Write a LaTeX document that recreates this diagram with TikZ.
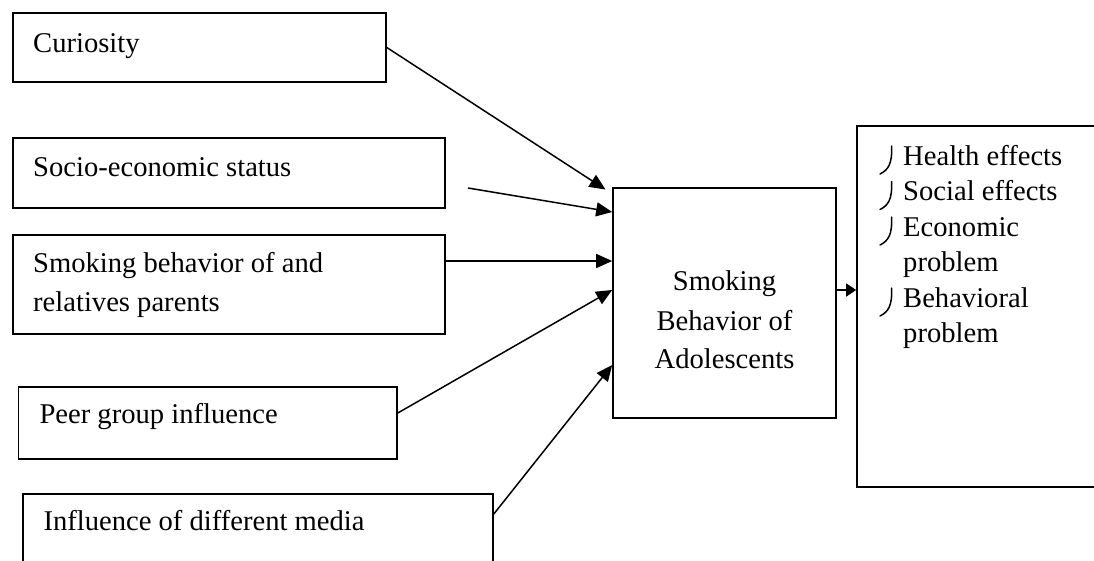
\documentclass[tikz,border=0pt]{standalone}
\usepackage{fontspec}
\setmainfont{Liberation Serif}
\usetikzlibrary{arrows.meta}
\begin{document}
\begin{tikzpicture}[x=1pt,y=-1pt,
  box/.style={draw, line width=1.6pt, inner sep=0pt},
  lbl/.style={inner sep=0pt, anchor=base west, font=\fontsize{28.6}{39}\selectfont},
  clbl/.style={inner sep=0pt, anchor=base, font=\fontsize{28.6}{39}\selectfont},
  arr/.style={line width=1.5pt, -{Triangle[length=16pt,width=14pt]}},
  arrsmall/.style={line width=1.5pt, -{Triangle[length=10pt,width=13pt]}},
  bulletmark/.style={line width=1.5pt, line cap=round}]
\useasboundingbox (0,0) rectangle (1094,560);
\clip (0,0) rectangle (1094,560);
% boxes
\node[box, minimum width=373.3pt, minimum height=69pt] (cur) at (199.35,47.5) {};
\node[box, minimum width=432.3pt, minimum height=70pt] (soc) at (228.85,173) {};
\node[box, minimum width=432.3pt, minimum height=99pt] (smk) at (228.85,284.5) {};
\node[box, minimum width=378.7pt, minimum height=72pt] (peer) at (207.65,423) {};
\node[box, minimum width=470.3pt, minimum height=86pt] (inf) at (257.85,537) {};
\node[box, minimum width=223pt, minimum height=230pt] (ctr) at (724.5,303) {};
\node[box, minimum width=293pt, minimum height=361pt] (rbox) at (1003.5,306.5) {};
% texts
\node[lbl] (tcur) at (33,52) {Curiosity};
\node[lbl] (tsoc) at (33,176) {Socio-economic status};
\node[lbl] (tsmk1) at (33,272) {Smoking behavior of and};
\node[lbl] (tsmk2) at (33,311) {relatives parents};
\node[lbl] (tpeer) at (39.3,423) {Peer group influence};
\node[lbl] (tinf) at (43.3,530) {Influence of different media};
\node[clbl] (tc1) at (724.5,290) {Smoking};
\node[clbl] (tc2) at (724.5,330) {Behavior of};
\node[clbl] (tc3) at (724.5,368) {Adolescents};
\node[lbl] (tr1) at (903,165) {Health effects};
\node[lbl] (tr2) at (903,200.5) {Social effects};
\node[lbl] (tr3) at (903,236) {Economic};
\node[lbl] (tr4) at (903,271.5) {problem};
\node[lbl] (tr5) at (903,307) {Behavioral};
\node[lbl] (tr6) at (903,342.5) {problem};
% bullet marks
\foreach \b in {165,200.5,236,307}{
  \draw[bulletmark] (891.5,\b-19) .. controls (892.5,\b-1) and (888,\b+5) .. (880,\b+9);
}
% connectors
\coordinate (c1tip) at (605.5,189.5);
\coordinate (s0) at (468,188);
\draw[arr] (cur.east) -- (c1tip);
\draw[arr] (s0) -- (ctr.west |- 0,212);
\draw[arr] (smk.east |- 0,261) -- (ctr.west |- 0,261);
\draw[arr] (peer.east |- 0,413) -- (ctr.west |- 0,290);
\draw[arr] (inf.east |- 0,514) -- (ctr.west |- 0,365);
\draw[arrsmall] (ctr.east |- 0,290) -- (rbox.west |- 0,290);
\end{tikzpicture}
\end{document}
